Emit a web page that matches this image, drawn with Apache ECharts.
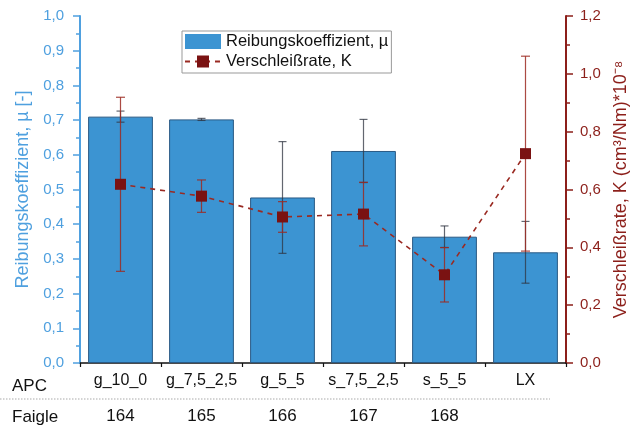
<!DOCTYPE html>
<html>
<head>
<meta charset="utf-8">
<script src="https://cdn.jsdelivr.net/npm/echarts@6/dist/echarts.min.js"></script>
<style>html,body{margin:0;padding:0;background:#fff}#c{width:631px;height:434px}</style>
</head>
<body>
<div id="c"></div>
<script>
const categories = ['g_10_0', 'g_7,5_2,5', 'g_5_5', 's_7,5_2,5', 's_5_5', 'LX'];
const faigle = ['164', '165', '166', '167', '168', ''];
const muValues = [0.71, 0.702, 0.477, 0.611, 0.364, 0.319];
const muErrors = [0.016, 0.003, 0.161, 0.091, 0.031, 0.089];
const kValues = [0.618, 0.577, 0.505, 0.515, 0.305, 0.724];
const kErrors = [0.301, 0.056, 0.053, 0.110, 0.094, 0.337];
const leftTicks = {min: 0, max: 1.0, interval: 0.1};
const rightTicks = {min: 0, max: 1.2, interval: 0.2};

const FONT = 'Liberation Sans, Arial, sans-serif';
const BLUE_AX = '#4fa0df';
const RED_AX = '#8c1f1a';
const fmt = v => v.toFixed(1).replace('.', ',');

function errItem(values, errors) {
  return values.map((v, i) => [i, v - errors[i], v + errors[i]]);
}
function errRender(color, capHalf, opacity) {
  return function (params, api) {
    const x = api.value(0);
    const lo = api.coord([x, api.value(1)]);
    const hi = api.coord([x, api.value(2)]);
    const style = {stroke: color, lineWidth: 1.2, opacity: opacity};
    return {
      type: 'group',
      children: [
        {type: 'line', shape: {x1: hi[0], y1: hi[1], x2: lo[0], y2: lo[1]}, style: style},
        {type: 'line', shape: {x1: hi[0] - capHalf, y1: hi[1], x2: hi[0] + capHalf, y2: hi[1]}, style: style},
        {type: 'line', shape: {x1: lo[0] - capHalf, y1: lo[1], x2: lo[0] + capHalf, y2: lo[1]}, style: style}
      ]
    };
  };
}

const chart = echarts.init(document.getElementById('c'), null, {renderer: 'canvas'});
chart.setOption({
  animation: false,
  backgroundColor: '#fff',
  textStyle: {fontFamily: FONT},
  grid: {left: 80, right: 65, top: 16, bottom: 71, containLabel: false, outerBoundsMode: 'none'},
  legend: {
    left: 182, top: 31,
    orient: 'vertical',
    borderColor: '#999', borderWidth: 1,
    padding: [2, 3, 3, 2],
    itemGap: 3, itemWidth: 36, itemHeight: 15,
    textStyle: {fontSize: 16.5, color: '#111', fontFamily: FONT},
    data: [{name: 'Reibungskoeffizient, µ', icon: 'rect', itemStyle: {borderWidth: 0}}, {name: 'Verschleißrate, K'}]
  },
  xAxis: [
    {
      type: 'category', data: categories, position: 'bottom',
      axisLine: {lineStyle: {color: '#111', width: 1.5}},
      axisTick: {alignWithLabel: true, length: 5, lineStyle: {color: '#111', width: 1.2}},
      axisLabel: {fontSize: 16, color: '#111', margin: 10, fontFamily: FONT, interval: 0}
    },
    {
      type: 'category', data: categories, position: 'bottom', offset: 0,
      axisLine: {show: false},
      axisTick: {show: true, length: 4, lineStyle: {color: '#111', width: 1.2}},
      axisLabel: {show: false}
    },
    {
      type: 'category', data: faigle, position: 'bottom', offset: 39,
      axisLine: {show: false}, axisTick: {show: false},
      axisLabel: {fontSize: 17, color: '#111', margin: 6, fontFamily: FONT, interval: 0}
    }
  ],
  yAxis: [
    {
      type: 'value', position: 'left', min: leftTicks.min, max: leftTicks.max, interval: leftTicks.interval,
      name: 'Reibungskoeffizient, µ [-]', nameLocation: 'middle', nameGap: 48,
      nameTextStyle: {fontSize: 18, color: BLUE_AX, fontFamily: FONT},
      axisLine: {show: true, lineStyle: {color: BLUE_AX, width: 2}},
      axisTick: {show: true, length: 7, lineStyle: {color: BLUE_AX, width: 1.5}},
      minorTick: {show: true, splitNumber: 2, length: 4, lineStyle: {color: BLUE_AX, width: 1.5}},
      splitLine: {show: false},
      axisLabel: {fontSize: 15, color: BLUE_AX, margin: 16, formatter: fmt, fontFamily: FONT}
    },
    {
      type: 'value', position: 'right', min: rightTicks.min, max: rightTicks.max, interval: rightTicks.interval,
      name: 'Verschleißrate, K (cm³/Nm)*10⁻⁸', nameLocation: 'middle', nameGap: 45,
      nameTextStyle: {fontSize: 18, color: RED_AX, fontFamily: FONT},
      axisLine: {show: true, lineStyle: {color: RED_AX, width: 2}},
      axisTick: {show: true, length: 7, lineStyle: {color: RED_AX, width: 1.5}},
      minorTick: {show: true, splitNumber: 2, length: 4, lineStyle: {color: RED_AX, width: 1.5}},
      splitLine: {show: false},
      axisLabel: {fontSize: 15, color: RED_AX, margin: 14, formatter: fmt, fontFamily: FONT}
    }
  ],
  series: [
    {
      name: 'Reibungskoeffizient, µ', type: 'bar', xAxisIndex: 0, yAxisIndex: 0,
      data: muValues, barCategoryGap: '20%',
      itemStyle: {color: '#3c94d2', borderColor: '#2a5a85', borderWidth: 1}
    },
    {
      type: 'custom', xAxisIndex: 0, yAxisIndex: 0, z: 3,
      data: errItem(muValues, muErrors),
      renderItem: errRender('#2f3440', 4, 0.75),
      encode: {x: 0, y: [1, 2]}, silent: true
    },
    {
      type: 'custom', xAxisIndex: 0, yAxisIndex: 1, z: 4,
      data: errItem(kValues, kErrors),
      renderItem: errRender('#9c2a22', 4.5, 0.85),
      encode: {x: 0, y: [1, 2]}, silent: true
    },
    {
      name: 'Verschleißrate, K', type: 'line', xAxisIndex: 0, yAxisIndex: 1, z: 5,
      data: kValues,
      symbol: 'rect', symbolSize: 11,
      itemStyle: {color: '#7a1212'},
      lineStyle: {color: '#9a2a22', width: 1.6, type: [5, 5]}
    }
  ],
  graphic: [
    {type: 'text', left: 12, top: 378, style: {text: 'APC', fontSize: 17, fill: '#111', fontFamily: FONT}},
    {type: 'line', shape: {x1: 0, y1: 399, x2: 550, y2: 399}, style: {stroke: '#aaa', lineWidth: 1.2, lineDash: [1.5, 1.5]}},
    {type: 'text', left: 12, top: 409, style: {text: 'Faigle', fontSize: 17, fill: '#111', fontFamily: FONT}}
  ]
});
</script>
</body>
</html>
